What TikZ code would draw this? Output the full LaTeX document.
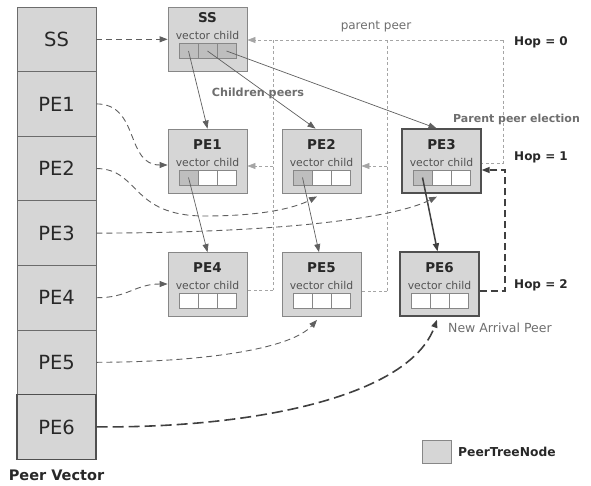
\documentclass[tikz,border=0pt]{standalone}
\usepackage{fontspec}
\setmainfont{DejaVu Sans}
\usetikzlibrary{arrows.meta,calc}
\definecolor{nodefill}{RGB}{214,214,214}
\definecolor{cellgray}{RGB}{190,190,190}
\definecolor{edgegray}{RGB}{135,135,135}
\definecolor{darkedge}{RGB}{80,80,80}
\definecolor{txt}{RGB}{40,40,40}
\definecolor{softtxt}{RGB}{110,110,110}
\definecolor{linegray}{RGB}{95,95,95}
\definecolor{dotgray}{RGB}{165,165,165}
\newcommand\treenode[9]{%
  \node[tn,#5] (#1) at (#2,#3) {};
  \node[ttl] (#1t) at ({#2},{#3-16.5+#9}) {#4};
  \node[vc] (#1v) at ({#2},{#3+1+#9}) {vector child};
  \node[cell,fill=#6] (#1c1) at ({#2-19},{#3+16.5+#9}) {};
  \node[cell,fill=#7] (#1c2) at ({#2},{#3+16.5+#9}) {};
  \node[cell,fill=#8] (#1c3) at ({#2+19},{#3+16.5+#9}) {};
}
\begin{document}
\begin{tikzpicture}[x=1pt,y=-1pt,
  pv/.style={draw=edgegray!80!black,line width=0.8pt,fill=nodefill,minimum width=79pt,minimum height=64.6pt,inner sep=0pt,font=\fontsize{19.5}{21}\selectfont,text=txt},
  tn/.style={draw=edgegray,line width=0.8pt,fill=nodefill,minimum width=79pt,minimum height=64pt,inner sep=0pt},
  strong/.style={draw=darkedge,line width=1.3pt},
  ttl/.style={font=\bfseries\fontsize{13.5}{15}\selectfont,text=txt,inner sep=0pt},
  vc/.style={font=\fontsize{10.8}{12}\selectfont,text=txt!80,inner sep=0pt},
  cell/.style={draw=edgegray,line width=0.7pt,minimum width=19pt,minimum height=15pt,inner sep=0pt},
  tip/.style={-{Triangle[length=8pt,width=6pt]}},
  treeline/.style={tip,draw=linegray,line width=0.7pt},
  boldtree/.style={tip,draw=darkedge!80!black,line width=1.5pt},
  parentline/.style={draw=dotgray,line width=0.7pt,dash pattern=on 3pt off 2.5pt},
  mapline/.style={tip,draw=linegray,line width=0.9pt,dash pattern=on 6pt off 4pt},
  newline/.style={tip,draw=darkedge!80!black,line width=1.6pt,dash pattern=on 11pt off 5pt},
  hop/.style={font=\bfseries\fontsize{12}{13}\selectfont,text=txt,anchor=west,inner sep=0pt},
  note/.style={font=\fontsize{12}{13}\selectfont,text=softtxt,inner sep=0pt}
]
\useasboundingbox (0,0) rectangle (591,485);

% peer vector
\node[pv] (vSS)  at (56.5,39.3)  {SS};
\node[pv] (vPE1) at (56.5,103.9) {PE1};
\node[pv] (vPE2) at (56.5,168.5) {PE2};
\node[pv] (vPE3) at (56.5,233.1) {PE3};
\node[pv] (vPE4) at (56.5,297.7) {PE4};
\node[pv] (vPE5) at (56.5,362.3) {PE5};
\node[pv,draw=darkedge,line width=1.3pt] (vPE6) at (56.5,426.9) {PE6};
\node[font=\bfseries\fontsize{14.5}{16}\selectfont,text=txt,inner sep=0pt] (pvlabel) at (56.5,475) {Peer Vector};

% tree nodes
\treenode{SS}{207.5}{39.5}{SS}{}{cellgray}{cellgray}{cellgray}{-5}
\treenode{PE1}{207.5}{161}{PE1}{}{cellgray}{white}{white}{0}
\treenode{PE2}{321.5}{161}{PE2}{}{cellgray}{white}{white}{0}
\treenode{PE3}{441.5}{161}{PE3}{strong}{cellgray}{white}{white}{0}
\treenode{PE4}{207.5}{284.5}{PE4}{}{white}{white}{white}{0}
\treenode{PE5}{321.5}{284.5}{PE5}{}{white}{white}{white}{0}
\treenode{PE6}{439.5}{284}{PE6}{strong}{white}{white}{white}{0}

% parent peer (dashed) lines
\coordinate (pA) at (273,40);
\coordinate (pB) at (387,40);
\coordinate (pC) at (503,40);
\coordinate (pA2) at (273,290);
\coordinate (pB2) at (387,291);
\coordinate (pC2) at (503,163);
\draw[parentline] (pA2) -- (PE4.east |- pA2);
\draw[parentline] (pB2) -- (PE5.east |- pB2);
\draw[parentline] (pA) -- (pA2);
\draw[parentline] (pB) -- (pB2);
\draw[parentline] (pC) -- (pC2) -- (PE3.east |- pC2);
\draw[parentline,tip] (pC) -- (SS.east |- pC);
\draw[parentline,tip] (273,166) -- (PE1.east |- 0,166);
\draw[parentline,tip] (387,166) -- (PE2.east |- 0,166);

% parent peer election (PE6 -> PE3)
\coordinate (eA) at (505,291);
\coordinate (eB) at (505,170);
\draw[tip,draw=darkedge!80!black,line width=1.4pt,dash pattern=on 7pt off 4pt]
  (PE6.east |- eA) -- (eA) -- (eB) -- (PE3.east |- eB);

% children (tree) arrows
\draw[treeline] (SSc1.center) -- (PE1.north);
\draw[treeline] (SSc2.center) -- ([xshift=-6pt]PE2.north);
\draw[treeline] (SSc3.center) -- ([xshift=-5pt]PE3.north);
\draw[treeline] (PE1c1.center) -- (PE4.north);
\draw[treeline] (PE2c1.center) -- ([xshift=-2.5pt]PE5.north);
\draw[boldtree] (PE3c1.center) -- ([xshift=-2pt]PE6.north);

% peer vector mappings
\draw[mapline] (vSS.east) -- (SS.west |- vSS.east);
\draw[mapline] (vPE1.east) .. controls (140,104) and (125,165) .. (PE1.west |- 0,165);
\draw[mapline] (vPE2.east) .. controls (140,169) and (130,216) .. (205,216)
   .. controls (262,216) and (295,208) .. ([xshift=-4.5pt,yshift=-3pt]PE2.south);
\draw[mapline] (vPE3.east) .. controls (250,233) and (385,222) .. ([xshift=-4.5pt,yshift=-3pt]PE3.south);
\draw[mapline] (vPE4.east) .. controls (128,298) and (135,284) .. (PE4.west |- 0,284);
\draw[mapline] (vPE5.east) .. controls (210,362) and (292,348) .. ([xshift=-4.5pt,yshift=-3pt]PE5.south);
\draw[newline] (vPE6.east) .. controls (260,428) and (410,395) .. ([xshift=-2.5pt,yshift=-3pt]PE6.south);

% labels
\node[note] (lparent) at (376,27) {parent peer};
\node[note,font=\bfseries\fontsize{11.2}{12}\selectfont] (lchildren) at (258,93) {Children peers};
\node[note,font=\bfseries\fontsize{11}{12}\selectfont] (lelection) at (516.5,119) {Parent peer election};
\node[note,font=\fontsize{12.5}{13}\selectfont,anchor=west] (larrival) at (448,328) {New Arrival Peer};
\node[hop] (hop0) at (514,42) {Hop = 0};
\node[hop] (hop1) at (514,157) {Hop = 1};
\node[hop] (hop2) at (514,285) {Hop = 2};

% legend
\node[draw=edgegray,line width=0.8pt,fill=nodefill,minimum width=29pt,minimum height=23pt,inner sep=0pt] (legbox) at (436.5,451.5) {};
\node[hop,font=\bfseries\fontsize{12.3}{13}\selectfont] (legtext) at (458,451.5) {PeerTreeNode};
\end{tikzpicture}
\end{document}
